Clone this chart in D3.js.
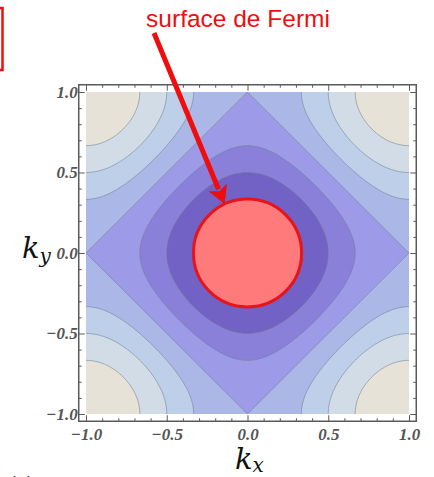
<!DOCTYPE html>
<html>
<head>
<meta charset="utf-8">
<script src="https://cdn.jsdelivr.net/npm/d3@7"></script>
<style>
  html, body { margin: 0; padding: 0; background: #fff; }
  svg { display: block; }
</style>
</head>
<body>
<div id="chart-container"></div>
<script>
// contour levels of E(k) = -cos(pi kx) - cos(pi ky), and the band colours between them
const levels = [-2, -1.5, -1, -0.5, 0, 0.5, 1, 1.5];
const bandColors = ["#5a48b0", "#7262c6", "#8a80da", "#9d9be8", "#abb7e7", "#bdcfe9", "#d1dce6", "#e6e2d7"];
const majorTicks = [-1, -0.5, 0, 0.5, 1];
const tickLabels = ["\u22121.0", "\u22120.5", "0.0", "0.5", "1.0"];
const minorTicks = d3.range(-10, 11).map(d => d / 10).filter(d => Math.abs(d * 2 - Math.round(d * 2)) > 1e-6);
const fermiRadius = 0.335;
const arrowAngle = 115; // degrees, where the arrow touches the fermi circle
const labelText = "surface de Fermi";

const W = 434, H = 477;

const x = d3.scaleLinear().domain([-1, 1]).range([86, 409]);
const y = d3.scaleLinear().domain([-1, 1]).range([414, 92]);
const pad = 0.045;

const svg = d3.select("#chart-container")
  .append("svg")
  .attr("width", W)
  .attr("height", H);

svg.append("defs").append("clipPath")
  .attr("id", "plotClip")
  .append("rect")
  .attr("x", x(-1)).attr("y", y(1))
  .attr("width", x(1) - x(-1))
  .attr("height", y(-1) - y(1));

// grid of energies, a bit larger than the plot so edges get clipped away
const k0 = -1.1, step = 0.01;
const n = Math.round(2.2 / step) + 1;
const values = new Array(n * n);
for (let j = 0; j < n; j++) {
  const ky = 1.1 - j * step;
  for (let i = 0; i < n; i++) {
    const kx = k0 + i * step;
    values[j * n + i] = -Math.cos(Math.PI * kx) - Math.cos(Math.PI * ky);
  }
}

const contours = d3.contours().size([n, n]).thresholds(levels)(values);

const proj = d3.geoTransform({
  point: function (px, py) {
    this.stream.point(x(k0 + (px - 0.5) * step), y(1.1 - (py - 0.5) * step));
  }
});
const path = d3.geoPath(proj);

const plot = svg.append("g").attr("clip-path", "url(#plotClip)");

plot.selectAll("path.band")
  .data(contours)
  .join("path")
  .attr("class", "band")
  .attr("d", path)
  .attr("fill", (d, i) => bandColors[i])
  .attr("stroke", "none");

plot.selectAll("path.cline")
  .data(contours.slice(1))
  .join("path")
  .attr("class", "cline")
  .attr("d", path)
  .attr("fill", "none")
  .attr("stroke", "#6f7c8c")
  .attr("stroke-opacity", 0.55)
  .attr("stroke-width", 1);

// frame
const fx0 = x(-1 - pad), fx1 = x(1 + pad), fy0 = y(1 + pad), fy1 = y(-1 - pad);
svg.append("rect")
  .attr("x", fx0).attr("y", fy0)
  .attr("width", fx1 - fx0).attr("height", fy1 - fy0)
  .attr("fill", "none")
  .attr("stroke", "#5a5a5a")
  .attr("stroke-width", 1.5);

function ticks(axisFn, transform, vals, size, labels) {
  const g = svg.append("g")
    .attr("transform", transform)
    .call(axisFn.tickValues(vals).tickSizeInner(size).tickSizeOuter(0)
      .tickFormat((d, i) => labels ? labels[i] : ""));
  g.select(".domain").remove();
  g.selectAll(".tick line").attr("stroke", "#5a5a5a").attr("stroke-width", 1);
  return g;
}

// major ticks (inward) with labels on bottom and left
const bx = ticks(d3.axisBottom(x), `translate(0,${fy1})`, majorTicks, -6, tickLabels);
const ly = ticks(d3.axisLeft(y), `translate(${fx0},0)`, majorTicks, -6, tickLabels);
ticks(d3.axisTop(x), `translate(0,${fy0})`, majorTicks, -6, null);
ticks(d3.axisRight(y), `translate(${fx1},0)`, majorTicks, -6, null);
// minor ticks
ticks(d3.axisBottom(x), `translate(0,${fy1})`, minorTicks, -3, null);
ticks(d3.axisLeft(y), `translate(${fx0},0)`, minorTicks, -3, null);
ticks(d3.axisTop(x), `translate(0,${fy0})`, minorTicks, -3, null);
ticks(d3.axisRight(y), `translate(${fx1},0)`, minorTicks, -3, null);

[bx, ly].forEach(g => g.selectAll(".tick text")
  .style("font-family", "'Liberation Serif', 'DejaVu Serif', serif")
  .style("font-style", "italic")
  .style("font-weight", "bold")
  .style("font-size", "17px")
  .attr("fill", "#555"));
bx.selectAll(".tick text").attr("y", 7);
ly.selectAll(".tick text").attr("x", -1);

// axis labels
const serif = "'DejaVu Serif', 'Liberation Serif', serif";
const kyLab = svg.append("text")
  .attr("x", 22).attr("y", 258)
  .style("font-family", serif).style("font-style", "italic")
  .style("font-size", "29px").attr("fill", "#111");
kyLab.append("tspan").text("k");
kyLab.append("tspan").attr("dy", 5).style("font-size", "20px").text("y");

const kxLab = svg.append("text")
  .attr("x", 235).attr("y", 469)
  .style("font-family", serif).style("font-style", "italic")
  .style("font-size", "29px").attr("fill", "#111");
kxLab.append("tspan").text("k");
kxLab.append("tspan").attr("dy", 3).style("font-size", "20px").text("x");

// fermi surface
svg.append("ellipse")
  .attr("cx", x(0)).attr("cy", y(0))
  .attr("rx", x(fermiRadius) - x(0))
  .attr("ry", y(0) - y(fermiRadius))
  .attr("fill", "#ff7b7b")
  .attr("stroke", "#e8141c")
  .attr("stroke-width", 3);

// annotation
svg.append("text")
  .attr("x", 238).attr("y", 27)
  .attr("text-anchor", "middle")
  .style("font-family", "'Liberation Sans', Arial, sans-serif")
  .style("font-size", "24.5px")
  .attr("fill", "#f00d0d")
  .text(labelText);

const a = arrowAngle * Math.PI / 180;
const tip = [x(fermiRadius * Math.cos(a)), y(fermiRadius * Math.sin(a))];
const start = [154, 33];
const dx = tip[0] - start[0], dy = tip[1] - start[1];
const len = Math.hypot(dx, dy);
const ux = dx / len, uy = dy / len;
const headLen = 18, headW = 10;
const base = [tip[0] - ux * headLen, tip[1] - uy * headLen];

svg.append("line")
  .attr("x1", start[0]).attr("y1", start[1])
  .attr("x2", base[0] + ux * 2).attr("y2", base[1] + uy * 2)
  .attr("stroke", "#f00d0d")
  .attr("stroke-width", 5);

svg.append("path")
  .attr("d", d3.line()([
    tip,
    [base[0] - uy * headW, base[1] + ux * headW],
    [base[0] + ux * 4, base[1] + uy * 4],
    [base[0] + uy * headW, base[1] - ux * headW]
  ]) + "Z")
  .attr("fill", "#f00d0d");

// red box edge at top left (cropped panel frame)
svg.append("rect")
  .attr("x", -10).attr("y", 8)
  .attr("width", 12.5).attr("height", 62)
  .attr("fill", "none")
  .attr("stroke", "#f00d0d")
  .attr("stroke-width", 2.5);

// cropped panel letter at the bottom
svg.append("text")
  .attr("x", 8).attr("y", 492)
  .style("font-family", "'Liberation Serif', serif")
  .style("font-size", "24px")
  .attr("fill", "#222")
  .text("(a)");
</script>
</body>
</html>
